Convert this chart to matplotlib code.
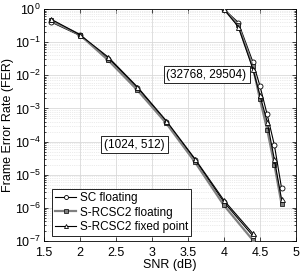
import matplotlib
matplotlib.use("Agg")
import matplotlib.pyplot as plt
import numpy as np

plt.rcParams['font.family'] = ['Liberation Sans', 'DejaVu Sans']
plt.rcParams['mathtext.fontset'] = 'custom'
plt.rcParams['mathtext.rm'] = 'Liberation Sans'

# Short code (1024, 512)
snr_short = [1.6, 2.0, 2.4, 2.8, 3.2, 3.6, 4.0, 4.4]
sc_short = [0.41, 0.16, 0.032, 0.0042, 4.0e-4, 2.8e-5, 1.5e-6, 1.45e-7]
rc_short = [0.45, 0.17, 0.028, 0.0036, 3.6e-4, 2.4e-5, 1.2e-6, 1.07e-7]
fx_short = [0.50, 0.17, 0.035, 0.0045, 4.3e-4, 3.0e-5, 1.7e-6, 1.7e-7]

# Long code (32768, 29504)
snr_long = [4.0, 4.2, 4.4, 4.5, 4.6, 4.7, 4.8]
sc_long = [1.0, 0.39, 0.026, 0.0048, 6.6e-4, 7.9e-5, 3.9e-6]
rc_long = [1.0, 0.32, 0.019, 0.0019, 2.3e-4, 2.0e-5, 1.3e-6]
fx_long = [1.0, 0.29, 0.016, 0.0025, 4.0e-4, 2.9e-5, 1.8e-6]

labels = ["SC floating", "S-RCSC2 floating", "S-RCSC2 fixed point"]
annot = ["(1024, 512)", "(32768, 29504)"]

fig = plt.figure(figsize=(3.05, 2.77), dpi=100)
ax = fig.add_axes([43.5/305, 36/277, 252.5/305, 232/277])

fs = 9
fsl = 8.5
gray = (0.5, 0.5, 0.5)
styles = [
    dict(color='k', lw=0.8, marker='o', ms=3.6, mfc='white', mec='k', mew=0.6),
    dict(color=gray, lw=1.6, marker='s', ms=3.2, mfc=gray, mec='k', mew=0.5),
    dict(color='k', lw=0.8, marker='^', ms=3.6, mfc='white', mec='k', mew=0.6),
]
series_short = [sc_short, rc_short, fx_short]
series_long = [sc_long, rc_long, fx_long]
handles = []
for i in range(3):
    h, = ax.semilogy(snr_short, series_short[i], label=labels[i], zorder=3+i*0.1, **styles[i])
    ax.semilogy(snr_long, series_long[i], zorder=3+i*0.1, **styles[i])
    handles.append(h)

ax.set_xlim(1.5, 5)
ax.set_ylim(1e-7, 1)
ax.set_xticks([1.5, 2, 2.5, 3, 3.5, 4, 4.5, 5])
ax.set_xticklabels(["1.5", "2", "2.5", "3", "3.5", "4", "4.5", "5"])
ax.set_yticks([10.0**k for k in range(-7, 1)])
ax.grid(True, which='major', color=(0.85, 0.85, 0.85), lw=0.6)
ax.grid(True, which='minor', color=(0.85, 0.85, 0.85), lw=0.5, ls=':')
ax.set_axisbelow(True)
ax.tick_params(which='both', direction='in', top=True, right=True, labelsize=fs, width=0.5)
ax.tick_params(which='major', length=3, pad=2)
ax.tick_params(axis='x', which='major', pad=4)
ax.tick_params(which='minor', length=1.5)
for s in ax.spines.values():
    s.set_linewidth(0.6)

ax.set_xlabel("SNR (dB)", fontsize=fs, labelpad=0)
ax.set_ylabel("Frame Error Rate (FER)", fontsize=fs, labelpad=1)

bbox = dict(boxstyle='square,pad=0.25', fc='white', ec='k', lw=0.6)
ax.text(2.76, 10**(-(144.5-9)/33.14), annot[0], fontsize=fsl, ha='center', va='center', bbox=bbox, zorder=5)
ax.text(3.76, 10**(-(74.5-9)/33.14), annot[1], fontsize=fsl, ha='center', va='center', bbox=bbox, zorder=5)

leg = ax.legend(handles=handles, loc='lower left', bbox_to_anchor=(0.034, 0.022), borderaxespad=0,
                fontsize=fsl, frameon=True, fancybox=False, edgecolor='k', framealpha=1,
                handlelength=1.8, handletextpad=0.3, labelspacing=0.2, borderpad=0.25, markerscale=0.8)
leg.get_frame().set_linewidth(0.6)

fig.savefig("out.png", dpi=100)
